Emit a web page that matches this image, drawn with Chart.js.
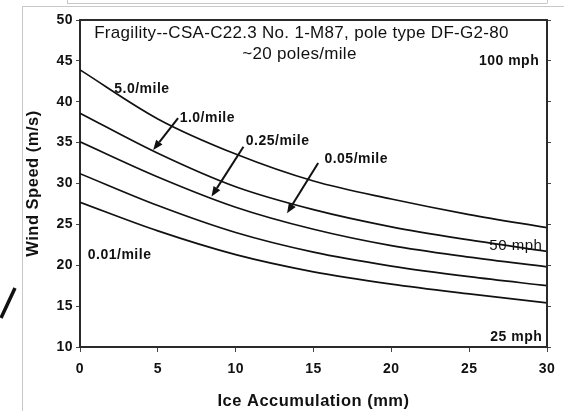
<!DOCTYPE html>
<html>
<head>
<meta charset="utf-8">
<script src="https://cdn.jsdelivr.net/npm/chart.js@4.4.1/dist/chart.umd.min.js"></script>
<style>
  html, body { margin: 0; padding: 0; background: #fff; }
  #wrap { position: relative; width: 564px; height: 411px; }
</style>
</head>
<body>
<div id="wrap"><canvas id="fragchart" width="564" height="411"></canvas></div>
<script>
// ice accumulation (mm) and wind speed (m/s)
const iceMm = [0, 5, 10, 15, 20, 25, 30];
const perMile5 = [43.9, 37.9, 33.6, 30.3, 28.1, 26.2, 24.6];
const perMile1 = [38.6, 33.7, 29.6, 26.8, 24.7, 23.1, 21.7];
const perMile025 = [35.1, 30.8, 27.1, 24.4, 22.4, 21.0, 19.8];
const perMile005 = [31.2, 27.3, 24.0, 21.6, 19.9, 18.6, 17.5];
const perMile001 = [27.7, 24.2, 21.3, 19.2, 17.7, 16.5, 15.4];
const xTicks = [0, 5, 10, 15, 20, 25, 30];
const yTicks = [10, 15, 20, 25, 30, 35, 40, 45, 50];

const titleLines = ['Fragility--CSA-C22.3 No. 1-M87, pole type DF-G2-80', '~20 poles/mile'];

// text notes placed in data units (mm, m/s)
const notes = [
  { text: '5.0/mile', x: 2.2, y: 41.5, align: 'left', bold: true },
  { text: '1.0/mile', x: 6.4, y: 38.0, align: 'left', bold: true },
  { text: '0.25/mile', x: 10.65, y: 35.2, align: 'left', bold: true },
  { text: '0.05/mile', x: 15.7, y: 32.95, align: 'left', bold: true },
  { text: '0.01/mile', x: 0.5, y: 21.25, align: 'left', bold: true },
  { text: '100 mph', x: 29.5, y: 45.0, align: 'right', bold: true },
  { text: '50 mph', x: 29.7, y: 22.4, align: 'right', bold: false },
  { text: '25 mph', x: 29.7, y: 11.25, align: 'right', bold: true },
];

const arrows = [
  { from: [6.3, 38.0], to: [4.7, 34.1] },
  { from: [10.5, 34.5], to: [8.45, 28.4] },
  { from: [15.3, 32.5], to: [13.3, 26.35] },
];

const FONT = "'Liberation Sans', Arial, sans-serif";

function pts(vals) {
  return vals.map((v, i) => ({ x: iceMm[i], y: v }));
}

const decorPlugin = {
  id: 'decor',
  beforeDraw(chart) {
    const c = chart.ctx;
    c.save();
    c.fillStyle = '#fff';
    c.fillRect(0, 0, chart.width, chart.height);
    // faint scan frame lines
    c.strokeStyle = '#c8c8c8';
    c.lineWidth = 1;
    c.beginPath();
    c.moveTo(22, 6.5); c.lineTo(564, 6.5);
    c.moveTo(22.5, 6); c.lineTo(22.5, 411);
    c.moveTo(67, 3.5); c.lineTo(547, 3.5);
    c.moveTo(67.5, 0); c.lineTo(67.5, 3.5);
    c.moveTo(547.5, 0); c.lineTo(547.5, 3.5);
    c.stroke();
    c.strokeStyle = '#111';
    c.lineWidth = 3.5;
    c.beginPath();
    c.moveTo(15, 288); c.lineTo(1, 318);
    c.stroke();
    c.restore();
    // the source lettering is set a little wide
    c.letterSpacing = '0.5px';
  },
  afterDraw(chart) {
    const c = chart.ctx;
    const a = chart.chartArea;
    const xs = chart.scales.x, ys = chart.scales.y;
    c.save();
    // plot frame top/right
    c.strokeStyle = '#2a2a2a';
    c.lineWidth = 2;
    c.beginPath();
    c.moveTo(a.left, a.top); c.lineTo(a.right, a.top); c.lineTo(a.right, a.bottom);
    c.stroke();

    c.fillStyle = '#111';
    c.textBaseline = 'middle';
    c.textAlign = 'center';
    c.letterSpacing = '0.3px';
    c.font = '17px ' + FONT;
    const cx = (a.left + a.right) / 2;
    c.fillText(titleLines[0], cx - 12, ys.getPixelForValue(48.4));
    c.fillText(titleLines[1], cx - 14, ys.getPixelForValue(45.8));

    c.letterSpacing = '0.5px';
    notes.forEach(n => {
      c.font = (n.bold ? 'bold 14px ' : '15px ') + FONT;
      c.textAlign = n.align;
      c.fillText(n.text, xs.getPixelForValue(n.x), ys.getPixelForValue(n.y));
    });

    c.strokeStyle = '#111';
    c.lineWidth = 2;
    arrows.forEach(ar => {
      const x0 = xs.getPixelForValue(ar.from[0]), y0 = ys.getPixelForValue(ar.from[1]);
      const x1 = xs.getPixelForValue(ar.to[0]), y1 = ys.getPixelForValue(ar.to[1]);
      const ang = Math.atan2(y1 - y0, x1 - x0);
      const hl = 10, hw = 4;
      const bx = x1 - hl * Math.cos(ang), by = y1 - hl * Math.sin(ang);
      c.beginPath();
      c.moveTo(x0, y0); c.lineTo(bx, by);
      c.stroke();
      c.beginPath();
      c.moveTo(x1, y1);
      c.lineTo(bx + hw * Math.sin(ang), by - hw * Math.cos(ang));
      c.lineTo(bx - hw * Math.sin(ang), by + hw * Math.cos(ang));
      c.closePath();
      c.fill();
    });
    c.restore();
  }
};

const lineStyle = {
  borderColor: '#111',
  borderWidth: 1.7,
  pointRadius: 0,
  fill: false,
  cubicInterpolationMode: 'monotone',
};

new Chart(document.getElementById('fragchart'), {
  type: 'line',
  data: {
    datasets: [
      { label: '5.0/mile', data: pts(perMile5), ...lineStyle },
      { label: '1.0/mile', data: pts(perMile1), ...lineStyle },
      { label: '0.25/mile', data: pts(perMile025), ...lineStyle },
      { label: '0.05/mile', data: pts(perMile005), ...lineStyle },
      { label: '0.01/mile', data: pts(perMile001), ...lineStyle },
    ],
  },
  options: {
    responsive: false,
    animation: false,
    layout: { padding: { top: 20, right: 0, left: 0, bottom: 0 } },
    plugins: {
      legend: { display: false },
      tooltip: { enabled: false },
    },
    scales: {
      x: {
        type: 'linear',
        min: 0,
        max: 30,
        afterBuildTicks: s => { s.ticks = xTicks.map(v => ({ value: v })); },
        afterFit: s => { s.height = 64; },
        grid: { drawOnChartArea: false, tickLength: 5, color: '#444' },
        border: { color: '#2a2a2a', width: 2 },
        ticks: { color: '#111', padding: 9, maxRotation: 0, font: { family: FONT, size: 14, weight: 'bold' } },
        title: {
          display: true,
          text: 'Ice Accumulation (mm)',
          color: '#111',
          font: { family: FONT, size: 16.5, weight: 'bold' },
          padding: { top: 0, bottom: 0 },
        },
      },
      y: {
        min: 10,
        max: 50,
        afterBuildTicks: s => { s.ticks = yTicks.map(v => ({ value: v })); },
        afterFit: s => { s.width = 80; },
        grid: { drawOnChartArea: false, tickLength: 4, color: '#444' },
        border: { color: '#2a2a2a', width: 2 },
        ticks: { color: '#111', padding: 3, font: { family: FONT, size: 14, weight: 'bold' } },
        title: {
          display: true,
          text: 'Wind Speed (m/s)',
          color: '#111',
          font: { family: FONT, size: 16.5, weight: 'bold' },
          padding: { top: 24, bottom: 0 },
        },
      },
      y2: {
        position: 'right',
        min: 10,
        max: 50,
        afterBuildTicks: s => { s.ticks = yTicks.map(v => ({ value: v })); },
        afterFit: s => { s.width = 17; },
        grid: { drawOnChartArea: false, tickLength: 4, color: '#444' },
        border: { display: false },
        ticks: { display: false },
      },
    },
  },
  plugins: [decorPlugin],
});
</script>
</body>
</html>
